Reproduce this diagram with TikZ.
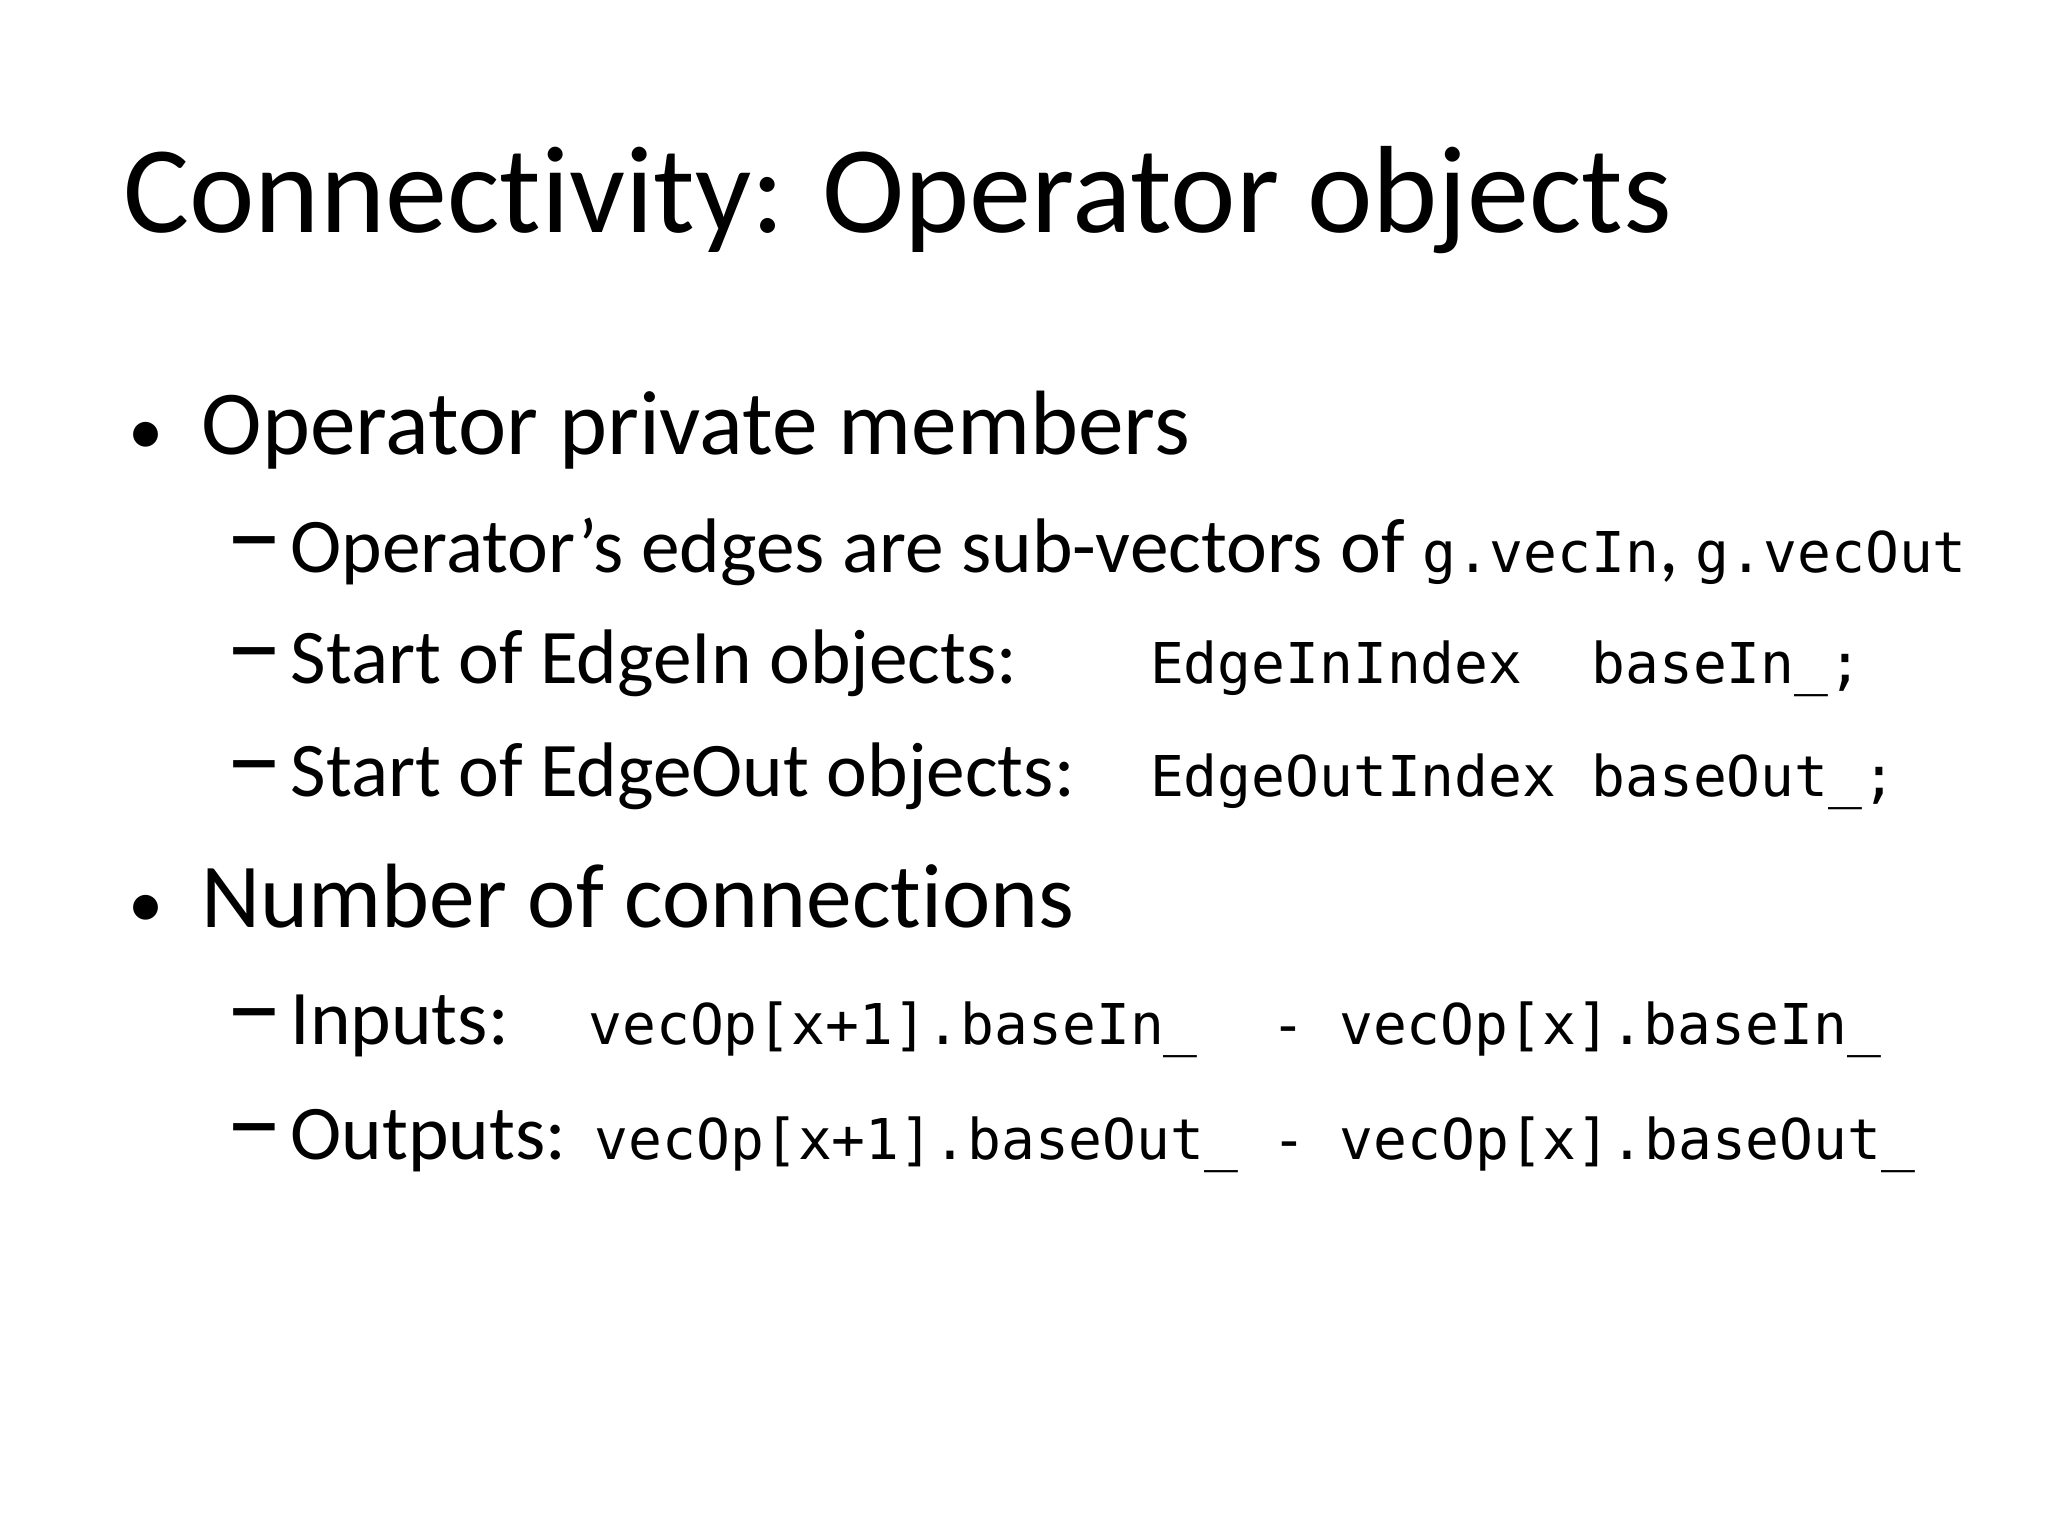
\documentclass[tikz,border=0pt]{standalone}
\usepackage{fontspec}
\setmainfont{Carlito}[Ligatures={NoCommon}]
\setmonofont{DejaVu Sans Mono}
\begin{document}
\begin{tikzpicture}[x=0.013061cm,y=-0.013061cm,
  t/.style={anchor=base west,inner sep=0pt},
  ti/.style={t,font=\fontsize{35.3}{40}\selectfont},
  lone/.style={t,font=\fontsize{26}{30}\selectfont},
  ltwo/.style={t,font=\fontsize{22}{26}\selectfont},
  dsh/.style={t,font=\fontsize{33}{36}\selectfont},
  cd/.style={t,font=\fontsize{16}{18}\ttfamily}]
\useasboundingbox (0,0) rectangle (1568,1176);
\node[ti] (title) at (94,178) {Connectivity: Operator objects};
\node[lone] (b1) at (98,348) {\fontsize{20}{20}\selectfont•};
\node[lone] (b1t) at (154,348) {Operator private members};
\node[dsh] (d1) at (172,438) {–};
\node[ltwo] (d1t) at (222,438) {Operator’s edges are sub-vectors of {\fontsize{16}{18}\ttfamily g.vecIn}, {\fontsize{16}{18}\ttfamily g.vecOut}};
\node[dsh] (d2) at (172,523) {–};
\node[ltwo] (d2t) at (222,523) {Start of EdgeIn objects:};
\node[cd] (c2a) at (880,523) {EdgeInIndex};
\node[cd] (c2b) at (1218,523) {baseIn\_;};
\node[dsh] (d3) at (172,610) {–};
\node[ltwo] (d3t) at (222,610) {Start of EdgeOut objects:};
\node[cd] (c3a) at (880,610) {EdgeOutIndex};
\node[cd] (c3b) at (1218,610) {baseOut\_;};
\node[lone] (b2) at (98,710) {\fontsize{20}{20}\selectfont•};
\node[lone] (b2t) at (154,710) {Number of connections};
\node[dsh] (d4) at (172,800) {–};
\node[ltwo] (d4t) at (222,800) {Inputs:};
\node[cd] (c4a) at (450,800) {vecOp[x+1].baseIn\_};
\node[cd] (c4b) at (973,800) {- vecOp[x].baseIn\_};
\node[dsh] (d5) at (172,888) {–};
\node[ltwo] (d5t) at (222,888) {Outputs:};
\node[cd] (c5a) at (455,888) {vecOp[x+1].baseOut\_ - vecOp[x].baseOut\_};
\end{tikzpicture}
\end{document}
